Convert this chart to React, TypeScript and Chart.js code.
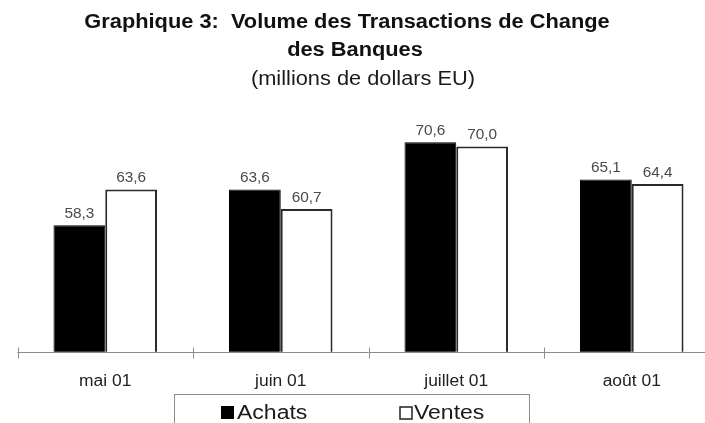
import React, { useEffect, useRef } from "react";
import { Chart, registerables } from "chart.js";

Chart.register(...registerables);

const categories = ["mai 01", "juin 01", "juillet 01", "août 01"];
const achats = [58.3, 63.6, 70.6, 65.1];
const ventes = [63.6, 60.7, 70.0, 64.4];
const seriesNames = ["Achats", "Ventes"];
const titleLines = ["Graphique 3:  Volume des Transactions de Change", "des Banques"];
const subtitleText = "(millions de dollars EU)";
const yMin = 39.5;
const yMax = 80;

const FONT = 'Arial, "Liberation Sans", Helvetica, sans-serif';
const SX = 1.09;

function drawText(
  ctx: CanvasRenderingContext2D,
  text: string,
  x: number,
  y: number,
  font: string,
  color: string,
  align: CanvasTextAlign,
  sx: number
) {
  ctx.save();
  ctx.font = font;
  ctx.fillStyle = color;
  ctx.textBaseline = "alphabetic";
  ctx.textAlign = align;
  ctx.translate(x, y);
  ctx.scale(sx, 1);
  ctx.fillText(text, 0, 0);
  ctx.restore();
}

const decorPlugin = {
  id: "decor",
  afterDatasetsDraw(chart: any) {
    const ctx: CanvasRenderingContext2D = chart.ctx;
    const xs = chart.scales.x;
    const ys = chart.scales.y;
    const base = Math.round(ys.getPixelForValue(yMin)) + 0.5;
    const half = (xs.getPixelForValue(1) - xs.getPixelForValue(0)) / 2;

    // axis line
    ctx.save();
    ctx.strokeStyle = "#8c8c8c";
    ctx.lineWidth = 1;
    ctx.beginPath();
    ctx.moveTo(xs.left, base);
    ctx.lineTo(xs.right, base);
    ctx.stroke();
    // tick marks at category boundaries
    for (let i = 0; i <= categories.length; i++) {
      const px = Math.round(xs.getPixelForValue(i) - half) + 0.5;
      ctx.beginPath();
      ctx.moveTo(px, base - 5);
      ctx.lineTo(px, base + 6);
      ctx.stroke();
    }
    ctx.restore();

    // category labels
    categories.forEach((c, i) => {
      drawText(ctx, c, xs.getPixelForValue(i), 386, `16px ${FONT}`, "#222", "center", SX);
    });

    // value labels
    chart.data.datasets.forEach((ds: any, di: number) => {
      const meta = chart.getDatasetMeta(di);
      meta.data.forEach((el: any, i: number) => {
        const v = ds.data[i] as number;
        const t = v.toFixed(1).replace(".", ",");
        drawText(ctx, t, el.x, el.y - 7, `14px ${FONT}`, "#4a4a4a", "center", 1.1);
      });
    });

    // title
    drawText(ctx, titleLines[0], 347, 28, `bold 20px ${FONT}`, "#111", "center", SX);
    drawText(ctx, titleLines[1], 355, 56, `bold 20px ${FONT}`, "#111", "center", SX);
    drawText(ctx, subtitleText, 363, 85, `20px ${FONT}`, "#1a1a1a", "center", SX);

    // legend box
    ctx.save();
    ctx.strokeStyle = "#8c8c8c";
    ctx.lineWidth = 1;
    ctx.strokeRect(174.5, 394.5, 355, 40);
    ctx.fillStyle = "#000";
    ctx.fillRect(221, 406, 13, 13);
    ctx.fillStyle = "#fff";
    ctx.fillRect(400, 407, 12, 12);
    ctx.strokeStyle = "#222";
    ctx.lineWidth = 1.5;
    ctx.strokeRect(400, 407, 12, 12);
    ctx.restore();
    drawText(ctx, seriesNames[0], 237, 419, `20px ${FONT}`, "#1a1a1a", "left", 1.15);
    drawText(ctx, seriesNames[1], 414, 419, `20px ${FONT}`, "#1a1a1a", "left", 1.15);
  },
};

export default function App() {
  const ref = useRef<HTMLCanvasElement | null>(null);

  useEffect(() => {
    if (!ref.current) return;
    const chart = new Chart(ref.current, {
      type: "bar",
      data: {
        labels: categories,
        datasets: [
          {
            label: seriesNames[0],
            data: achats,
            backgroundColor: "#000000",
            borderColor: "#000000",
            borderWidth: 1,
            categoryPercentage: 0.59,
            barPercentage: 1,
          },
          {
            label: seriesNames[1],
            data: ventes,
            backgroundColor: "#ffffff",
            borderColor: "#2a2a2a",
            borderWidth: 2,
            categoryPercentage: 0.59,
            barPercentage: 1,
          },
        ],
      },
      options: {
        responsive: false,
        animation: false,
        devicePixelRatio: 1,
        layout: { padding: { left: 17.5, right: 2.5, top: 79.1, bottom: 71.3 } },
        scales: {
          x: { display: false },
          y: { display: false, min: yMin, max: yMax },
        },
        plugins: {
          legend: { display: false },
          title: { display: false },
          tooltip: { enabled: false },
        },
      },
      plugins: [decorPlugin],
    } as any);
    return () => chart.destroy();
  }, []);

  return (
    <div
      style={{
        position: "fixed",
        left: 0,
        top: 0,
        width: 705,
        height: 423,
        overflow: "hidden",
        background: "#fff",
      }}
    >
      <canvas ref={ref} width={722} height={423} style={{ display: "block" }} />
    </div>
  );
}
